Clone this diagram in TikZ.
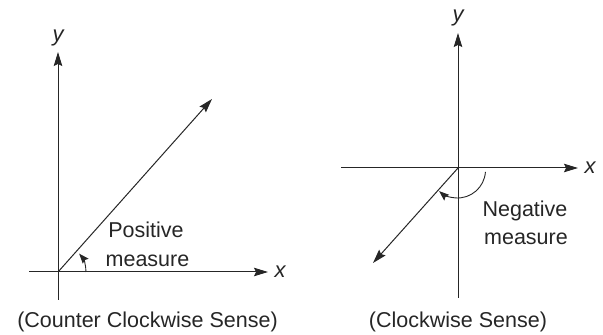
\documentclass[tikz,border=0pt]{standalone}
\usepackage{fontspec}
\setmainfont{Liberation Sans}
\usetikzlibrary{arrows.meta}
\begin{document}
\begin{tikzpicture}[x=1pt,y=1pt,
  axis/.style={line width=1pt, draw=black!85, -{Stealth[length=14pt,width=8.5pt,inset=2pt]}},
  plainline/.style={line width=1pt, draw=black!85},
  anglearc/.style={line width=0.9pt, draw=black!85, -{Stealth[length=10pt,width=7.5pt,inset=1.5pt]}},
  lbl/.style={font=\fontsize{21.5}{25}\selectfont, text=black!85, inner sep=0pt},
  axlbl/.style={font=\fontsize{22}{25}\selectfont\itshape, text=black!85, inner sep=0pt}]
\useasboundingbox (0,0) rectangle (603,335);
% ---------- left panel ----------
\coordinate (O1) at (58,63);
\coordinate (yb1) at (58,35);
\coordinate (yt1) at (58,283);
\coordinate (xl1) at (29,63);
\coordinate (xr1) at (268,63);
\coordinate (r1) at (212,236);
\draw[plainline] (yb1) -- (O1);
\draw[axis] (O1) -- (yt1);
\draw[plainline] (xl1) -- (O1);
\draw[axis] (O1) -- (xr1);
\draw[axis] (O1) -- (r1);
\draw[anglearc] ([xshift=28pt]O1) arc[start angle=0,end angle=41,radius=28];
\node[axlbl] (ylab1) at (58,297) {y};
\node[axlbl] (xlab1) at (280,63) {x};
\node[lbl, anchor=base] (pos) at (146,97) {Positive};
\node[lbl, anchor=base] (meas1) at (147.5,68) {measure};
\node[lbl, anchor=base] (cap1) at (147.5,7) {(Counter Clockwise Sense)};
% ---------- right panel ----------
\coordinate (O2) at (458,167);
\coordinate (C2) at (457.5,165);
\coordinate (yb2) at (458,37);
\coordinate (yt2) at (458,302);
\coordinate (xl2) at (341,167);
\coordinate (xr2) at (578,167);
\coordinate (r2) at (373,72);
\draw[plainline] (yb2) -- (O2);
\draw[axis] (O2) -- (yt2);
\draw[plainline] (xl2) -- (O2);
\draw[axis] (O2) -- (xr2);
\draw[axis] (O2) -- (r2);
\draw[anglearc] (C2) ++(-4:28) arc[start angle=-4,end angle=-131,radius=28];
\node[axlbl] (ylab2) at (458,317) {y};
\node[axlbl] (xlab2) at (590,167) {x};
\node[lbl, anchor=base] (neg) at (525,118) {Negative};
\node[lbl, anchor=base] (meas2) at (526,90) {measure};
\node[lbl, anchor=base] (cap2) at (458,7) {(Clockwise Sense)};
\end{tikzpicture}
\end{document}
